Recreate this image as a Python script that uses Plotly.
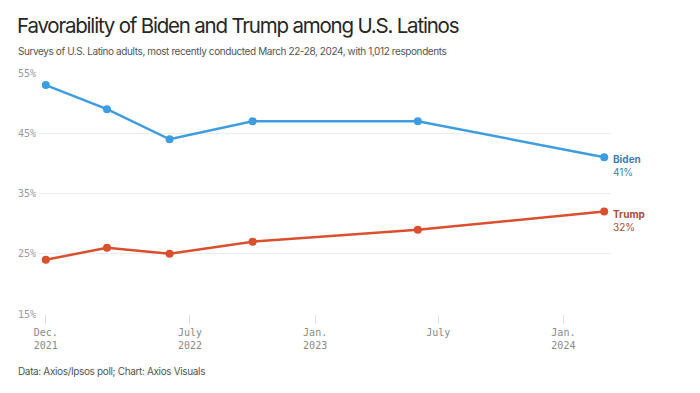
import plotly.graph_objects as go

dates = ["2021-12-01", "2022-03-01", "2022-06-01", "2022-10-01", "2023-06-01", "2024-03-01"]
biden = [53, 49, 44, 47, 47, 41]
trump = [24, 26, 25, 27, 29, 32]

tick_vals = ["2021-12-01", "2022-07-01", "2023-01-01", "2023-07-01", "2024-01-01"]
tick_text = ["Dec.<br>2021", "July<br>2022", "Jan.<br>2023", "July", "Jan.<br>2024"]
y_ticks = [15, 25, 35, 45, 55]

BLUE = "#3d9de0"
RED = "#d9502e"
BLUE_T = "#3f7fb8"
RED_T = "#b04a3a"
SANS = "Inter, 'Noto Sans', sans-serif"
MONO = "'DejaVu Sans Mono', 'Liberation Mono', monospace"

W, H = 700, 393
L, R, T, B = 39, 89, 73, 79
pw, ph = W - L - R, H - T - B

def px(xpix):
    return (xpix - L) / pw

def py(ypix):
    return (H - B - ypix) / ph

fig = go.Figure()
for name, vals, col in [("Biden", biden, BLUE), ("Trump", trump, RED)]:
    fig.add_trace(go.Scatter(
        x=dates, y=vals, mode="lines+markers", name=name,
        line=dict(color=col, width=2.5),
        marker=dict(color=col, size=8),
        hoverinfo="skip", showlegend=False, cliponaxis=False,
    ))

for name, vals, col in [("Biden", biden, BLUE_T), ("Trump", trump, RED_T)]:
    fig.add_annotation(
        x=dates[-1], y=vals[-1], xref="x", yref="y",
        text=f"<b>{name}</b><br><span style='font-family:{MONO}'>{vals[-1]}%</span>",
        showarrow=False, xanchor="left", yanchor="top", align="left",
        xshift=7, yshift=6,
        font=dict(family=SANS, size=10, color=col),
    )

fig.add_annotation(
    text="<span style='letter-spacing:-1.2px'>Favorability of Biden and Trump among U.S. Latinos</span>",
    xref="paper", yref="paper", x=px(15), y=py(11), xanchor="left", yanchor="top",
    showarrow=False, font=dict(family=SANS, size=20.5, color="#262626"),
)
fig.add_annotation(
    text="<span style='letter-spacing:-0.4px'>Surveys of U.S. Latino adults, most recently conducted March 22-28, 2024, with 1,012 respondents</span>",
    xref="paper", yref="paper", x=px(16), y=py(43), xanchor="left", yanchor="top",
    showarrow=False, font=dict(family=SANS, size=10, color="#555555"),
)
fig.add_annotation(
    text="<span style='letter-spacing:-0.35px'>Data: Axios/Ipsos poll; Chart: Axios Visuals</span>",
    xref="paper", yref="paper", x=px(16), y=py(363), xanchor="left", yanchor="top",
    showarrow=False, font=dict(family=SANS, size=10, color="#555555"),
)

fig.update_layout(
    width=W, height=H,
    margin=dict(l=L, r=R, t=T, b=B),
    paper_bgcolor="white", plot_bgcolor="white",
    xaxis=dict(
        type="date", range=["2021-11-21", "2024-03-11"],
        tickmode="array", tickvals=tick_vals, ticktext=tick_text,
        ticks="outside", ticklen=9, tickcolor="#e2e2e2", tickwidth=1,
        showgrid=False, zeroline=False, showline=False,
        tickfont=dict(family=MONO, size=10, color="#8a8a8a"),
    ),
    yaxis=dict(
        range=[15, 55], tickmode="array", tickvals=y_ticks,
        ticktext=[f"{v}%" for v in y_ticks],
        showgrid=True, gridcolor="#ececec", gridwidth=1,
        zeroline=False, showline=False, ticks="",
        tickfont=dict(family=MONO, size=10, color="#9a9a9a"),
        ticklabelstandoff=2,
    ),
)

fig.write_html("out.html", config={"displayModeBar": False},
               post_script="document.body.style.margin='0';")
